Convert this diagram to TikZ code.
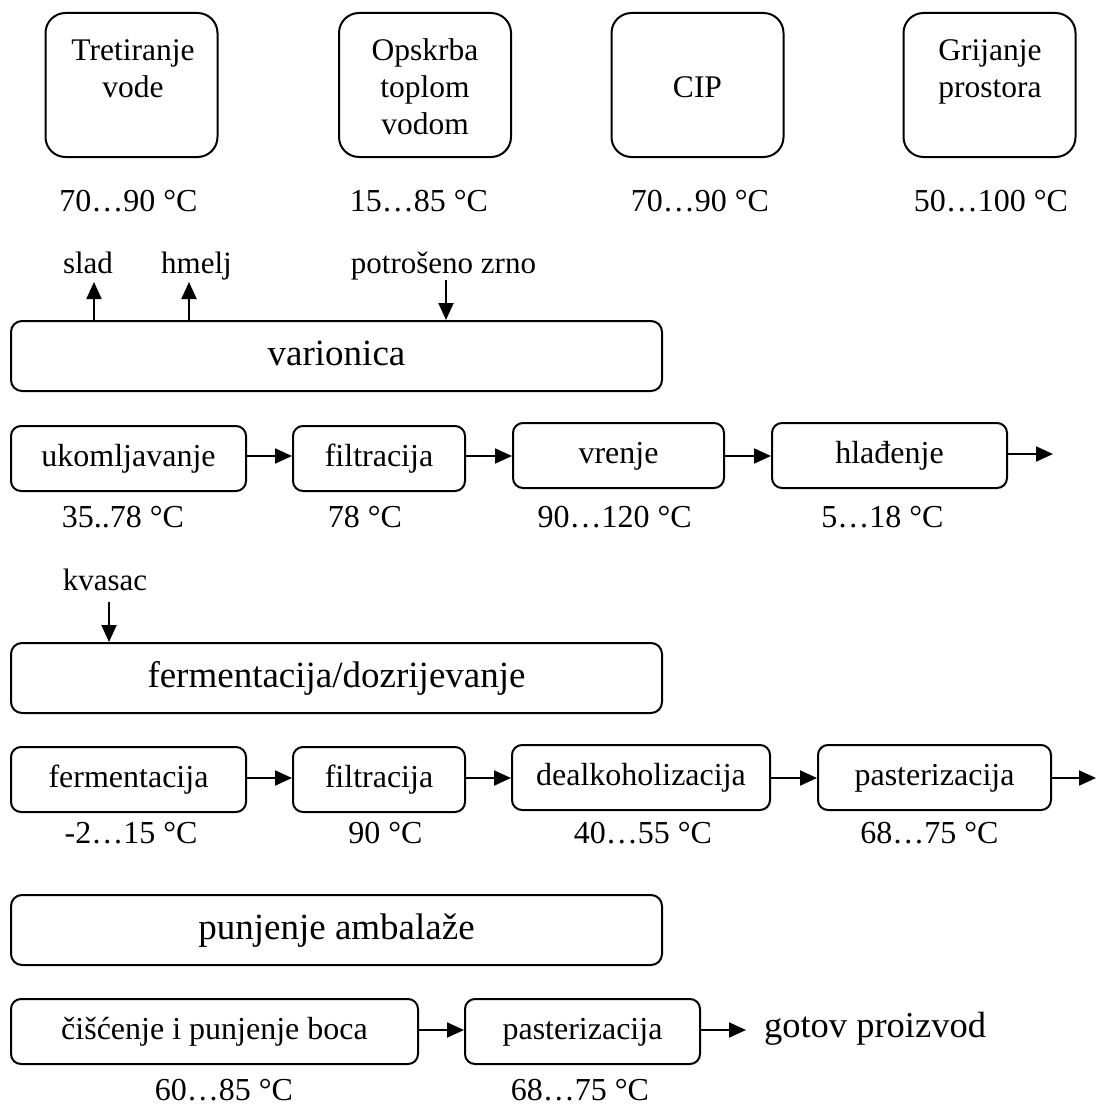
\documentclass[tikz,border=0pt]{standalone}
\usepackage{fontspec}
\setmainfont{Liberation Serif}
\usetikzlibrary{arrows.meta}
\begin{document}
\begin{tikzpicture}[x=1pt,y=-1pt,
  line width=2pt,
  topbox/.style={draw, rounded corners=20pt, minimum width=172pt, minimum height=144pt, inner sep=0pt},
  procbox/.style={draw, rounded corners=10pt, minimum height=65pt, inner sep=0pt, font=\fontsize{32}{38}\selectfont, text height=22pt, text depth=7pt},
  bigbox/.style={draw, rounded corners=11pt, minimum width=651pt, minimum height=70pt, inner sep=0pt, font=\fontsize{37}{44}\selectfont, text height=26pt, text depth=7pt},
  toptext/.style={align=center, inner sep=0pt, anchor=north, font=\fontsize{31.5}{37}\selectfont},
  temp/.style={anchor=base, inner sep=0pt, font=\fontsize{32}{38}\selectfont},
  small/.style={anchor=base, inner sep=0pt, font=\fontsize{31}{37}\selectfont},
  arr/.style={-{Triangle[length=17pt,width=15pt]}, line width=2pt},
]
\path[use as bounding box] (0,0) rectangle (1097,1108);

% top boxes
\node[topbox] (tb1) at (131.5,85) {};
\node[topbox] (tb2) at (425,85) {};
\node[topbox] (tb3) at (697.5,85) {};
\node[topbox] (tb4) at (989.5,85) {};
\node[toptext] (tt1) at (133,34) {\strut Tretiranje\\vode};
\node[toptext] (tt2) at (425,34) {\strut Opskrba\\toplom\\vodom};
\node[anchor=base, inner sep=0pt, font=\fontsize{31.5}{37}\selectfont] (tt3) at (697.5,97) {CIP};
\node[toptext] (tt4) at (990,34) {\strut Grijanje\\prostora};

\node[temp] (c1) at (128.5,211) {70…90 °C};
\node[temp] (c2) at (419,211) {15…85 °C};
\node[temp] (c3) at (700,211) {70…90 °C};
\node[temp] (c4) at (991,211) {50…100 °C};

% varionica
\node[small] (slad) at (88,273) {slad};
\node[small] (hmelj) at (196.5,273) {hmelj};
\node[small] (zrno) at (443.5,273) {potrošeno zrno};
\node[bigbox] (var) at (336.5,356) {varionica};
\coordinate (sladtip) at (94,282);
\coordinate (hmeljtip) at (189,282);
\coordinate (zrnotail) at (446,280);
\draw[arr] (var.north -| sladtip) -- (sladtip);
\draw[arr] (var.north -| hmeljtip) -- (hmeljtip);
\draw[arr] (zrnotail) -- (var.north -| zrnotail);

% row 2
\node[procbox, minimum width=235pt] (ukom) at (128.5,458.5) {ukomljavanje};
\node[procbox, minimum width=172pt] (filt1) at (379,458.5) {filtracija};
\node[procbox, minimum width=211pt] (vrenje) at (618.5,455.5) {vrenje};
\node[procbox, minimum width=235pt] (hlad) at (889.5,455.5) {hlađenje};
\coordinate (out2) at (1053,454);
\draw[arr] (ukom.east |- 0,456) -- (filt1.west |- 0,456);
\draw[arr] (filt1.east |- 0,456) -- (vrenje.west |- 0,456);
\draw[arr] (vrenje.east |- 0,456) -- (hlad.west |- 0,456);
\draw[arr] (hlad.east |- out2) -- (out2);
\node[temp] (c5) at (123,527) {35..78 °C};
\node[temp] (c6) at (365,527) {78 °C};
\node[temp] (c7) at (614.7,527) {90…120 °C};
\node[temp] (c8) at (882.5,527) {5…18 °C};

% fermentacija
\node[small] (kvasac) at (105,590) {kvasac};
\node[bigbox] (ferm) at (336.5,678) {fermentacija/dozrijevanje};
\coordinate (kvtail) at (109,602);
\draw[arr] (kvtail) -- (ferm.north -| kvtail);

% row 4
\node[procbox, minimum width=235pt] (fer) at (128.5,779.5) {fermentacija};
\node[procbox, minimum width=172pt] (filt2) at (379,779.5) {filtracija};
\node[procbox, minimum width=258pt] (dealk) at (641,777.5) {dealkoholizacija};
\node[procbox, minimum width=233pt] (past1) at (934.5,777.5) {pasterizacija};
\coordinate (out4) at (1096,778);
\draw[arr] (fer.east |- out4) -- (filt2.west |- out4);
\draw[arr] (filt2.east |- out4) -- (dealk.west |- out4);
\draw[arr] (dealk.east |- out4) -- (past1.west |- out4);
\draw[arr] (past1.east |- out4) -- (out4);
\node[temp] (c9) at (131,843) {-2…15 °C};
\node[temp] (c10) at (385.5,843) {90 °C};
\node[temp] (c11) at (643,843) {40…55 °C};
\node[temp] (c12) at (929.5,843) {68…75 °C};

% punjenje
\node[bigbox] (punj) at (336.5,930) {punjenje ambalaže};

% row 6
\node[procbox, minimum width=407pt] (cis) at (214.5,1031.5) {čišćenje i punjenje boca};
\node[procbox, minimum width=235pt] (past2) at (582.5,1031.5) {pasterizacija};
\node[anchor=base west, inner xsep=17pt, inner ysep=0pt, font=\fontsize{36.5}{43}\selectfont] (gotov) at (746,1037) {gotov proizvod};
\draw[arr] (cis.east |- 0,1030) -- (past2.west |- 0,1030);
\draw[arr] (past2.east |- 0,1030) -- (gotov.west |- 0,1030);
\node[temp] (c13) at (224,1100) {60…85 °C};
\node[temp] (c14) at (580,1100) {68…75 °C};
\end{tikzpicture}
\end{document}
